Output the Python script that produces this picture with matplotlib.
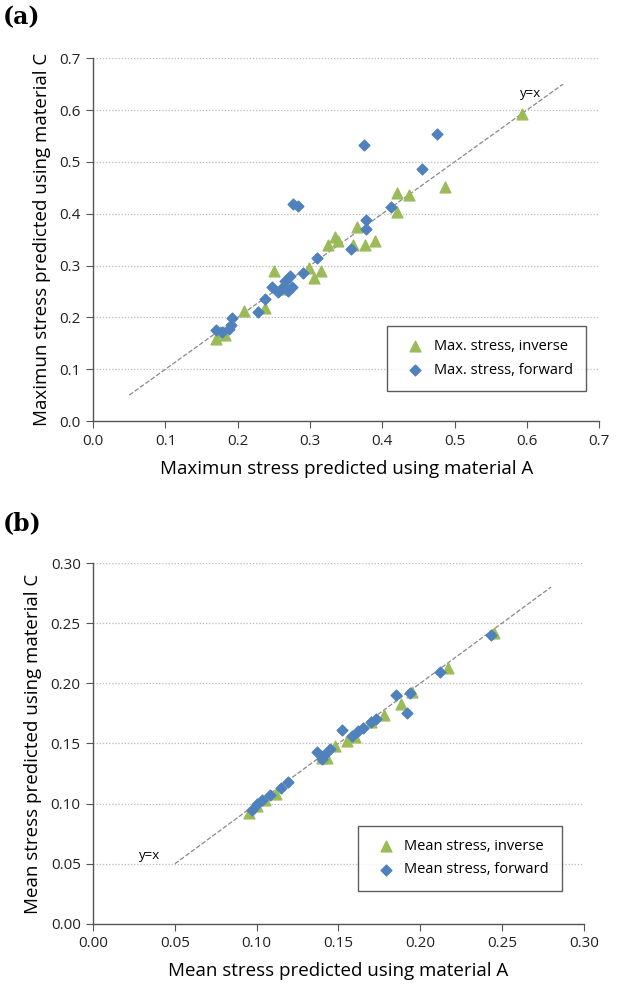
import matplotlib
matplotlib.use("Agg")
import matplotlib.pyplot as plt

plt.rcParams['font.family'] = ['Open Sans', 'DejaVu Sans']

# panel (a): maximum stress
max_fwd_x = [0.375, 0.475, 0.455, 0.412, 0.378, 0.378, 0.357, 0.310, 0.277, 0.284,
             0.290, 0.272, 0.265, 0.275, 0.270, 0.260, 0.255, 0.248, 0.238, 0.228,
             0.192, 0.190, 0.188, 0.178, 0.170]
max_fwd_y = [0.532, 0.553, 0.487, 0.413, 0.387, 0.370, 0.332, 0.315, 0.418, 0.415,
             0.285, 0.280, 0.270, 0.258, 0.250, 0.255, 0.248, 0.258, 0.235, 0.210,
             0.198, 0.185, 0.178, 0.172, 0.176]
max_inv_x = [0.593, 0.487, 0.437, 0.420, 0.420, 0.390, 0.376, 0.365, 0.360, 0.335,
             0.325, 0.338, 0.315, 0.305, 0.298, 0.250, 0.265, 0.260, 0.238, 0.208,
             0.182, 0.170, 0.175]
max_inv_y = [0.593, 0.452, 0.437, 0.440, 0.404, 0.347, 0.340, 0.374, 0.340, 0.355,
             0.340, 0.348, 0.290, 0.275, 0.295, 0.290, 0.262, 0.255, 0.218, 0.213,
             0.165, 0.158, 0.172]

# panel (b): mean stress
mean_fwd_x = [0.243, 0.212, 0.194, 0.192, 0.185, 0.173, 0.170, 0.165, 0.162, 0.158,
              0.152, 0.145, 0.141, 0.140, 0.137, 0.119, 0.115, 0.108, 0.103, 0.100, 0.097]
mean_fwd_y = [0.240, 0.209, 0.192, 0.175, 0.190, 0.170, 0.168, 0.163, 0.160, 0.156,
              0.161, 0.145, 0.140, 0.137, 0.143, 0.118, 0.113, 0.107, 0.103, 0.100, 0.095]
mean_inv_x = [0.245, 0.217, 0.195, 0.188, 0.178, 0.170, 0.160, 0.155, 0.148, 0.143,
              0.140, 0.112, 0.105, 0.100, 0.095]
mean_inv_y = [0.242, 0.213, 0.193, 0.183, 0.174, 0.168, 0.155, 0.152, 0.148, 0.138,
              0.138, 0.108, 0.103, 0.098, 0.092]

green = '#9BBB59'
blue = '#4F81BD'

fig = plt.figure(figsize=(6.21, 9.86), dpi=100)
ax1 = fig.add_axes([0.150, 0.573, 0.815, 0.368])
ax2 = fig.add_axes([0.150, 0.063, 0.790, 0.366])


def style(ax, xmax, ymax, step, fmt):
    ax.set_xlim(0, xmax)
    ax.set_ylim(0, ymax)
    ticks = [i * step for i in range(int(round(xmax / step)) + 1)]
    ax.set_xticks(ticks)
    ax.set_xticklabels([fmt % t for t in ticks])
    yt = [i * step for i in range(int(round(ymax / step)) + 1)]
    ax.set_yticks(yt)
    ax.set_yticklabels([fmt % t for t in yt])
    for s in ['top', 'right']:
        ax.spines[s].set_visible(False)
    for s in ['left', 'bottom']:
        ax.spines[s].set_color('#555555')
        ax.spines[s].set_linewidth(1.0)
    ax.tick_params(direction='out', length=5, color='#555555', labelsize=11,
                   labelcolor='#222222', pad=4)
    ax.grid(axis='y', linestyle=(0, (1, 1.5)), color='#bbbbbb', linewidth=0.9)
    ax.set_axisbelow(True)


# (a)
style(ax1, 0.7, 0.7, 0.1, '%.1f')
ax1.plot([0.05, 0.65], [0.05, 0.65], linestyle='--', color='#888888', linewidth=0.9, zorder=1)
ax1.scatter(max_inv_x, max_inv_y, marker='^', s=60, color=green, label='Max. stress, inverse', zorder=3)
ax1.scatter(max_fwd_x, max_fwd_y, marker='D', s=30, color=blue, label='Max. stress, forward', zorder=3)
ax1.text(0.59, 0.625, 'y=x', fontsize=9.5)
ax1.set_xlabel('Maximun stress predicted using material A', fontsize=13.5, labelpad=8)
ax1.set_ylabel('Maximun stress predicted using material C', fontsize=13.5, labelpad=6)
leg1 = ax1.legend(loc='lower right', bbox_to_anchor=(0.988, 0.063), fontsize=10.5,
                  frameon=True, fancybox=False, edgecolor='#333333', borderpad=0.9,
                  handletextpad=0.3, labelspacing=0.6)
leg1.get_frame().set_linewidth(1.0)
fig.text(0.005, 0.975, '(a)', fontsize=17, fontweight='bold', family='DejaVu Serif')

# (b)
style(ax2, 0.30, 0.30, 0.05, '%.2f')
ax2.plot([0.05, 0.28], [0.05, 0.28], linestyle='--', color='#888888', linewidth=0.9, zorder=1)
ax2.scatter(mean_inv_x, mean_inv_y, marker='^', s=60, color=green, label='Mean stress, inverse', zorder=3)
ax2.scatter(mean_fwd_x, mean_fwd_y, marker='D', s=30, color=blue, label='Mean stress, forward', zorder=3)
ax2.text(0.028, 0.054, 'y=x', fontsize=9.5)
ax2.set_xlabel('Mean stress predicted using material A', fontsize=13.5, labelpad=8)
ax2.set_ylabel('Mean stress predicted using material C', fontsize=13.5, labelpad=6)
leg2 = ax2.legend(loc='lower right', bbox_to_anchor=(0.971, 0.072), fontsize=10.5,
                  frameon=True, fancybox=False, edgecolor='#333333', borderpad=0.9,
                  handletextpad=0.3, labelspacing=0.6)
leg2.get_frame().set_linewidth(1.0)
fig.text(0.005, 0.462, '(b)', fontsize=17, fontweight='bold', family='DejaVu Serif')

fig.savefig('out.png', dpi=100)
